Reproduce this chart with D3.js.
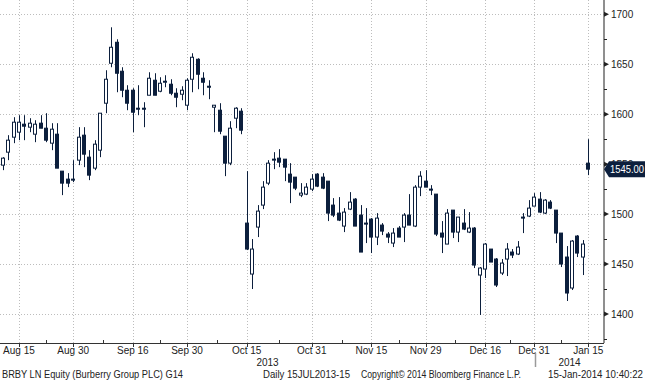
<!DOCTYPE html>
<html><head><meta charset="utf-8">
<script src="https://cdn.jsdelivr.net/npm/d3@7"></script>
<style>
body{margin:0;background:#fff;}
svg{display:block;font-family:"Liberation Sans",Arial,sans-serif;}
</style>
</head><body>
<svg id="c" width="645" height="380"></svg>
<script>
const dates = [
"2013-08-12","2013-08-13","2013-08-14","2013-08-15","2013-08-16","2013-08-19","2013-08-20","2013-08-21","2013-08-22","2013-08-23",
"2013-08-27","2013-08-28","2013-08-29","2013-08-30",
"2013-09-02","2013-09-03","2013-09-04","2013-09-05","2013-09-06","2013-09-09","2013-09-10","2013-09-11","2013-09-12","2013-09-13",
"2013-09-16","2013-09-17","2013-09-18","2013-09-19","2013-09-20","2013-09-23","2013-09-24","2013-09-25","2013-09-26","2013-09-27","2013-09-30",
"2013-10-01","2013-10-02","2013-10-03","2013-10-04","2013-10-07","2013-10-08","2013-10-09","2013-10-10","2013-10-11","2013-10-14",
"2013-10-15","2013-10-16","2013-10-17","2013-10-18","2013-10-21","2013-10-22","2013-10-23","2013-10-24","2013-10-25","2013-10-28",
"2013-10-29","2013-10-30","2013-10-31",
"2013-11-01","2013-11-04","2013-11-05","2013-11-06","2013-11-07","2013-11-08","2013-11-11","2013-11-12","2013-11-13","2013-11-14",
"2013-11-15","2013-11-18","2013-11-19","2013-11-20","2013-11-21","2013-11-22","2013-11-25","2013-11-26","2013-11-27","2013-11-28","2013-11-29",
"2013-12-02","2013-12-03","2013-12-04","2013-12-05","2013-12-06","2013-12-09","2013-12-10","2013-12-11","2013-12-12","2013-12-13",
"2013-12-16","2013-12-17","2013-12-18","2013-12-19","2013-12-20","2013-12-23","2013-12-24","2013-12-27","2013-12-30","2013-12-31",
"2014-01-02","2014-01-03","2014-01-06","2014-01-07","2014-01-08","2014-01-09","2014-01-10","2014-01-13","2014-01-14","2014-01-15"
];
const open = [
1549,1562,1577,1582,1590,1587,1580,1591,1586,1571,
1580,1543,1535,1535,1554,1579,1557,1546,1564,1611,
1651,1672,1643,1624,1624,1606,1606,1619,1634,1623,
1632,1630,1621,1620,1609,1635,1655,1636,1628,1607,
1604,1578,1551,1596,1603,1491,1440,1487,1509,1531,
1554,1556,1555,1540,1537,1519,1520,1525,1540,1537,
1533,1509,1501,1488,1505,1515,1499,1491,1495,1477,
1489,1480,1471,1486,1487,1499,1488,1527,1533,1525,
1520,1481,1470,1504,1482,1491,1482,1486,1439,1445,
1465,1455,1441,1455,1462,1460,1497,1498,1508,1515,
1501,1512,1504,1481,1457,1426,1478,1457,1551
];
const high = [
1557,1579,1597,1599,1599,1596,1594,1599,1601,1591,
1591,1543,1541,1554,1587,1587,1564,1574,1601,1644,
1687,1675,1647,1629,1626,1629,1612,1642,1641,1637,
1639,1635,1626,1628,1636,1661,1656,1642,1634,1609,
1611,1578,1593,1607,1606,1543,1475,1509,1533,1554,
1562,1565,1555,1551,1537,1531,1531,1540,1541,1541,
1533,1516,1517,1506,1522,1516,1509,1506,1496,1501,
1491,1482,1486,1488,1501,1520,1529,1543,1544,1529,
1520,1493,1505,1504,1497,1505,1502,1487,1447,1471,
1465,1456,1455,1471,1465,1473,1501,1514,1521,1522,
1515,1514,1504,1481,1468,1474,1479,1474,1575
];
const low = [
1544,1554,1571,1574,1574,1582,1572,1586,1572,1564,
1546,1519,1527,1532,1549,1547,1534,1544,1557,1601,
1647,1622,1617,1604,1582,1599,1587,1619,1619,1622,
1627,1619,1607,1614,1604,1622,1625,1619,1615,1582,
1580,1538,1549,1586,1580,1464,1425,1477,1505,1529,
1545,1547,1533,1511,1524,1517,1519,1523,1527,1525,
1493,1497,1493,1482,1504,1488,1462,1471,1461,1469,
1479,1471,1467,1477,1472,1489,1487,1518,1527,1519,
1478,1461,1470,1476,1472,1484,1481,1446,1399,1436,
1452,1427,1439,1438,1456,1459,1481,1497,1508,1501,
1500,1505,1471,1447,1413,1424,1457,1439,1539
];
const close = [
1556,1574,1592,1592,1588,1591,1590,1586,1574,1585,
1546,1531,1531,1535,1577,1560,1539,1570,1601,1635,
1667,1641,1624,1611,1602,1606,1606,1636,1619,1631,
1633,1621,1617,1624,1634,1657,1640,1632,1628,1609,
1583,1551,1586,1606,1584,1465,1465,1503,1527,1551,
1555,1552,1547,1532,1526,1521,1527,1535,1528,1526,
1501,1499,1494,1502,1512,1488,1462,1491,1477,1496,
1483,1477,1481,1477,1499,1489,1527,1538,1527,1525,
1480,1477,1501,1482,1497,1485,1486,1449,1446,1470,
1452,1429,1451,1465,1459,1467,1497,1506,1517,1502,
1514,1506,1481,1450,1421,1473,1461,1470,1545
];
const tickDates = ["2013-08-15","2013-08-30","2013-09-16","2013-09-30","2013-10-15","2013-10-31","2013-11-15","2013-11-29","2013-12-16","2013-12-31","2014-01-15"];
const tickLabels = ["Aug 15","Aug 30","Sep 16","Sep 30","Oct 15","Oct 31","Nov 15","Nov 29","Dec 16","Dec 31","Jan 15"];
const priceTicks = [1400,1450,1500,1550,1600,1650,1700];
const minorPriceTicks = [1375,1425,1475,1525,1575,1625,1675,1725];
const yearLabels = ["2013","2014"];
const lastPrice = 1545.00;
const footerLeft = "BRBY LN Equity (Burberry Group PLC) G14";
const footerMid1 = "Daily 15JUL2013-15";
const footerMid2 = "Copyright\u00A9 2014 Bloomberg Finance L.P.";
const footerRight = "15-Jan-2014 10:40:22";

const NAVY = "#0c1f3d";
const svg = d3.select("#c");
const axisX = 604, axisY = 343;

const x = d3.scalePoint().domain(dates).range([2.7, 588.3]);
const y = d3.scaleLinear().domain([1400, 1700]).range([314, 14.3]);
const snap = v => Math.round(v) + 0.5;

// gridlines
const grid = svg.append("g");
grid.selectAll("line.h").data(priceTicks).join("line")
  .attr("x1", 0).attr("x2", axisX).attr("y1", d => snap(y(d))).attr("y2", d => snap(y(d)))
  .attr("stroke", "#bdbdbd").attr("stroke-dasharray", "1,2");
grid.selectAll("line.v").data(tickDates).join("line")
  .attr("x1", d => snap(x(d))).attr("x2", d => snap(x(d))).attr("y1", 0).attr("y2", axisY)
  .attr("stroke", "#bdbdbd").attr("stroke-dasharray", "1,2");

// candles
const idx = d3.range(dates.length);
const cg = svg.append("g");
cg.selectAll("line.w").data(idx).join("line")
  .attr("x1", i => snap(x(dates[i]))).attr("x2", i => snap(x(dates[i])))
  .attr("y1", i => y(high[i])).attr("y2", i => y(low[i]))
  .attr("stroke", NAVY).attr("stroke-width", 1);
cg.selectAll("rect.b").data(idx).join("rect")
  .attr("x", i => Math.round(x(dates[i])) - 1.5)
  .attr("width", 3)
  .attr("y", i => y(Math.max(open[i], close[i])))
  .attr("height", i => Math.max(1, y(Math.min(open[i], close[i])) - y(Math.max(open[i], close[i]))))
  .attr("fill", i => close[i] > open[i] ? "#fff" : NAVY)
  .attr("stroke", NAVY).attr("stroke-width", 1);

// right axis
const ra = svg.append("g");
ra.append("line").attr("x1", axisX).attr("x2", axisX).attr("y1", 0).attr("y2", axisY)
  .attr("stroke", "#6a6a6a").attr("stroke-width", 1.5);
ra.selectAll("path.t").data(priceTicks).join("path")
  .attr("d", d => { const yy = y(d); return `M${axisX},${yy-2.5}L${axisX+5},${yy}L${axisX},${yy+2.5}Z`; })
  .attr("fill", "#222");
ra.selectAll("line.m").data(minorPriceTicks.filter(d => y(d) > 0 && y(d) < axisY)).join("line")
  .attr("x1", axisX).attr("x2", axisX + 3).attr("y1", d => snap(y(d))).attr("y2", d => snap(y(d)))
  .attr("stroke", "#222");
ra.selectAll("text").data(priceTicks).join("text")
  .attr("x", axisX + 7).attr("y", d => y(d)).attr("dy", "0.35em")
  .attr("font-size", 10).attr("fill", "#222").text(d => d);

// last price label
const ly = y(lastPrice);
svg.append("path")
  .attr("d", `M${axisX},${ly}L${axisX+5},${ly-8}L645,${ly-8}L645,${ly+8}L${axisX+5},${ly+8}Z`)
  .attr("fill", NAVY);
svg.append("text").attr("x", axisX + 6).attr("y", ly).attr("dy", "0.36em")
  .attr("font-size", 10).attr("fill", "#fff")
  .attr("textLength", 34).attr("lengthAdjust", "spacingAndGlyphs")
  .text(lastPrice.toFixed(2));

// bottom axis
const ba = svg.append("g");
ba.append("line").attr("x1", 0).attr("x2", axisX).attr("y1", axisY + 0.5).attr("y2", axisY + 0.5)
  .attr("stroke", "#333");
ba.selectAll("line.t").data(tickDates).join("line")
  .attr("x1", d => snap(x(d))).attr("x2", d => snap(x(d))).attr("y1", axisY).attr("y2", axisY + 4)
  .attr("stroke", "#333");
const mids = tickDates.slice(1).map((d, i) => (x(tickDates[i]) + x(d)) / 2);
ba.selectAll("line.mt").data(mids).join("line")
  .attr("x1", d => snap(d)).attr("x2", d => snap(d)).attr("y1", axisY - 3).attr("y2", axisY)
  .attr("stroke", "#333");
ba.selectAll("text").data(tickDates).join("text")
  .attr("x", d => x(d)).attr("y", 354).attr("text-anchor", "middle")
  .attr("font-size", 10).attr("fill", "#222").text((d, i) => tickLabels[i]);

// year row
const yearBoundary = x("2013-12-31") + 1;
svg.append("line").attr("x1", snap(yearBoundary)).attr("x2", snap(yearBoundary)).attr("y1", 353).attr("y2", 367)
  .attr("stroke", "#9a9a9a").attr("stroke-width", 1.5);
svg.append("text").attr("x", yearBoundary / 2).attr("y", 366).attr("text-anchor", "middle")
  .attr("font-size", 10).attr("fill", "#222").text(yearLabels[0]);
svg.append("text").attr("x", (yearBoundary + axisX) / 2).attr("y", 366).attr("text-anchor", "middle")
  .attr("font-size", 10).attr("fill", "#222").text(yearLabels[1]);

// footer
const ft = [[footerLeft, 2, 181], [footerMid1, 263, 87], [footerMid2, 361, 160], [footerRight, 548, 95]];
svg.selectAll("text.ft").data(ft).join("text")
  .attr("x", d => d[1]).attr("y", 378).attr("font-size", 10).attr("fill", "#222")
  .attr("textLength", d => d[2]).attr("lengthAdjust", "spacingAndGlyphs")
  .text(d => d[0]);
</script>
</body></html>
